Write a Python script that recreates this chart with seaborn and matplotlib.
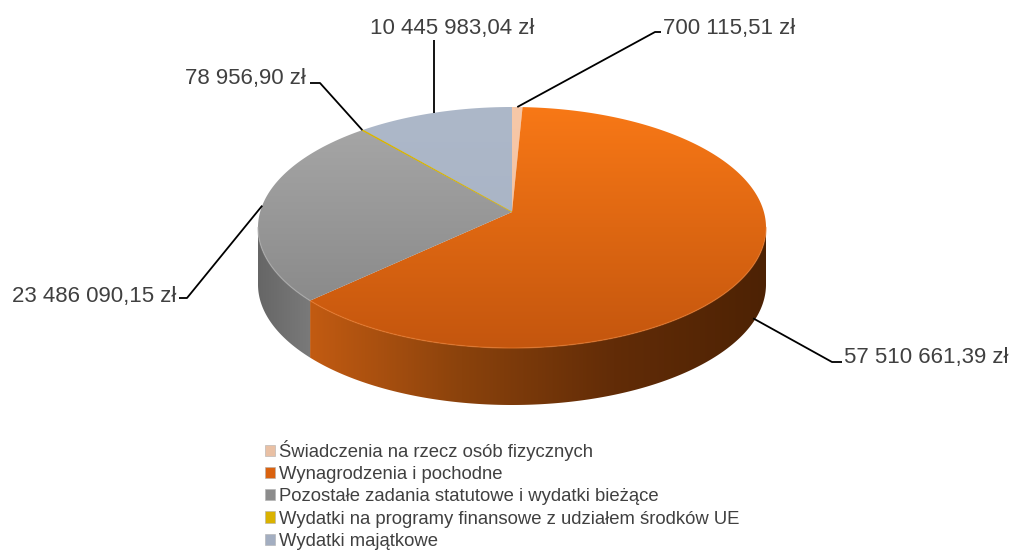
import numpy as np
import matplotlib
matplotlib.use("Agg")
import matplotlib.pyplot as plt
from matplotlib.patches import Polygon, Patch
from matplotlib.colors import LinearSegmentedColormap
import seaborn as sns

# ---------------- data ----------------
categories = [
    "Świadczenia na rzecz osób fizycznych",
    "Wynagrodzenia i pochodne",
    "Pozostałe zadania statutowe i wydatki bieżące",
    "Wydatki na programy finansowe z udziałem środków UE",
    "Wydatki majątkowe",
]
values = [700115.51, 57510661.39, 23486090.15, 78956.90, 10445983.04]
value_labels = ["700 115,51 zł", "57 510 661,39 zł", "23 486 090,15 zł",
                "78 956,90 zł", "10 445 983,04 zł"]

# ---------------- style ----------------
sns.set_theme(style="white")
plt.rcParams['font.family'] = ['Liberation Sans', 'DejaVu Sans']

top_colors = [
    ["#f7c8a8", "#f2bd9c"],
    ["#f87816", "#c4560e"],
    ["#a9a9a9", "#838383"],
    ["#d8b400", "#d8b400"],
    ["#adb8c9", "#a6b1c3"],
]
side_colors = [
    ["#c99c80", "#c99c80"],
    ["#c25b12", "#8a420c", "#622c07", "#4d2204"],
    ["#666666", "#7a7a7a"],
    ["#a88c00", "#a88c00"],
    ["#8590a0", "#8590a0"],
]
rim_highlight = ["#f9d5bc", "#e8782a", "#b0b0b0", "#e0c020", "#c0c8d6"]
legend_colors = ["#e9c0a4", "#da620f", "#8c8c8c", "#dab200", "#a3aec1"]
text_color = "#404040"

W, H = 1011, 557
fig = plt.figure(figsize=(W / 100, H / 100), dpi=100)
ax = fig.add_axes([0, 0, 1, 1])
ax.set_autoscale_on(False)
ax.set_xlim(0, W)
ax.set_ylim(H, 0)
ax.axis('off')

# geometry of the tilted pie (pixel space)
CX, CY, A, B = 512, 227.5, 254, 120.5
PX, PY = 512, 212
DEPTH = 57


def rim(theta_deg):
    th = np.radians(theta_deg)
    dx = A * np.sin(th)
    dy = -B * np.cos(th)
    u0 = (PX - CX) / A
    v0 = (PY - CY) / B
    du = dx / A
    dv = dy / B
    aq = du ** 2 + dv ** 2
    bq = 2 * (u0 * du + v0 * dv)
    cq = u0 ** 2 + v0 ** 2 - 1
    t = (-bq + np.sqrt(bq ** 2 - 4 * aq * cq)) / (2 * aq)
    return PX + t * dx, PY + t * dy


def gradient_fill(verts, stops, axis, lo, hi, zorder):
    patch = Polygon(verts, closed=True, facecolor='none', edgecolor='none')
    ax.add_patch(patch)
    cmap = LinearSegmentedColormap.from_list('g', stops)
    verts = np.asarray(verts)
    x0, x1 = verts[:, 0].min(), verts[:, 0].max()
    y0, y1 = verts[:, 1].min(), verts[:, 1].max()
    n = 256
    if axis == 'x':
        c = np.linspace(x0, x1, n)
        g = ((c - lo) / (hi - lo)).clip(0, 1)[None, :]
    else:
        c = np.linspace(y0, y1, n)
        g = ((c - lo) / (hi - lo)).clip(0, 1)[:, None]
    im = ax.imshow(g, cmap=cmap, vmin=0, vmax=1, extent=(x0, x1, y1, y0),
                   origin='upper', aspect='auto', interpolation='bilinear',
                   zorder=zorder)
    im.set_clip_path(patch)


total = float(np.sum(values))
fracs = np.array(values) / total
ends = np.cumsum(fracs) * 360.0
starts = ends - fracs * 360.0

# side walls
for i in range(len(values)):
    s, e = starts[i], ends[i]
    th = np.linspace(s, e, max(3, int((e - s) * 3)))
    rx, ry = rim(th)
    m = ry >= CY - 0.5
    if m.sum() < 2:
        continue
    rx, ry = rx[m], ry[m]
    verts = list(zip(rx, ry)) + list(zip(rx[::-1], ry[::-1] + DEPTH))
    gradient_fill(verts, side_colors[i], 'x', rx.min(), rx.max(), zorder=2)
    ax.plot(rx, ry, color=rim_highlight[i], lw=1.0, alpha=0.6, zorder=3.5)

# top faces
for i in range(len(values)):
    s, e = starts[i], ends[i]
    th = np.linspace(s, e, max(3, int((e - s) * 3)))
    rx, ry = rim(th)
    verts = [(PX, PY)] + list(zip(rx, ry))
    gradient_fill(verts, top_colors[i], 'y', CY - B, CY + B, zorder=3)
    if fracs[i] < 0.005:
        ax.add_patch(Polygon(verts, closed=True, facecolor='none',
                             edgecolor=top_colors[i][0], lw=0.5, zorder=4))

# data labels with leader lines
label_layout = [
    dict(path=[(655, 32), (661, 32)], pos=(663, 34), ha='left', front=False),
    dict(path=[(832, 362), (842, 362)], pos=(844, 363), ha='left', front=True),
    dict(path=[(187, 298), (179, 298)], pos=(176, 302), ha='right', front=False),
    dict(path=[(320, 83), (310, 83)], pos=(306, 84), ha='right', front=False),
    dict(path=[(434, 40)], pos=(452, 34), ha='center', front=False),
]
for i in range(len(values)):
    mid = (starts[i] + ends[i]) / 2
    ax_, ay_ = rim(mid)
    lay = label_layout[i]
    if lay['front']:
        ay_ = ay_ + DEPTH * 0.93
    if i == 4:
        pts = [(ax_, ay_), (ax_, lay['path'][0][1])]
    else:
        pts = [(ax_, ay_)] + lay['path']
    xs, ys = zip(*pts)
    ax.plot(xs, ys, color='black', lw=1.3, zorder=5, solid_capstyle='butt')
    ax.text(lay['pos'][0], lay['pos'][1], value_labels[i], ha=lay['ha'],
            va='baseline', fontsize=16, color=text_color, zorder=6)

# legend
handles = [Patch(facecolor=c, edgecolor='#b0b0b0', linewidth=0.4) for c in legend_colors]
fig.legend(handles, categories, loc='upper left',
           bbox_to_anchor=(265 / W, 1 - 440 / H), frameon=False,
           fontsize=13.3, labelcolor=text_color, handlelength=0.55,
           handleheight=0.55, handletextpad=0.2, borderpad=0,
           borderaxespad=0, labelspacing=0.28)

fig.savefig("out.png", dpi=100, facecolor='white')
